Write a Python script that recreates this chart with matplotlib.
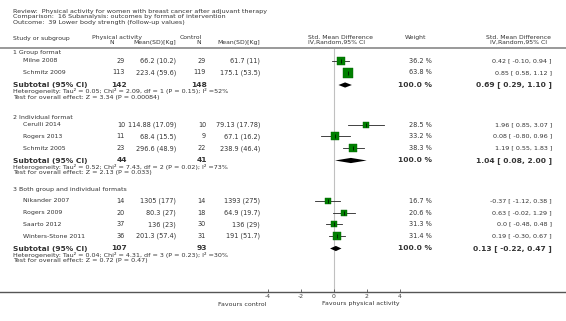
import matplotlib
matplotlib.use("Agg")
import matplotlib.pyplot as plt
import matplotlib.transforms as mtransforms

# ---------------- data ----------------
title_lines = ["Review:  Physical activity for women with breast cancer after adjuvant therapy",
               "Comparison:  16 Subanalysis: outcomes by format of intervention",
               "Outcome:  39 Lower body strength (follow-up values)"]

group_names = ["1 Group format", "2 Individual format", "3 Both group and individual formats"]

studies = [["Milne 2008", "Schmitz 2009"],
           ["Cerulli 2014", "Rogers 2013", "Schmitz 2005"],
           ["Nikander 2007", "Rogers 2009", "Saarto 2012", "Winters-Stone 2011"]]
pa_n = [[29, 113], [10, 11, 23], [14, 20, 37, 36]]
pa_mean = [["66.2 (10.2)", "223.4 (59.6)"],
           ["114.88 (17.09)", "68.4 (15.5)", "296.6 (48.9)"],
           ["1305 (177)", "80.3 (27)", "136 (23)", "201.3 (57.4)"]]
ct_n = [[29, 119], [10, 9, 22], [14, 18, 30, 31]]
ct_mean = [["61.7 (11)", "175.1 (53.5)"],
           ["79.13 (17.78)", "67.1 (16.2)", "238.9 (46.4)"],
           ["1393 (275)", "64.9 (19.7)", "136 (29)", "191 (51.7)"]]
weights = [[36.2, 63.8], [28.5, 33.2, 38.3], [16.7, 20.6, 31.3, 31.4]]
est = [[0.42, 0.85], [1.96, 0.08, 1.19], [-0.37, 0.63, 0.0, 0.19]]
lo = [[-0.10, 0.58], [0.85, -0.80, 0.55], [-1.12, -0.02, -0.48, -0.30]]
hi = [[0.94, 1.12], [3.07, 0.96, 1.83], [0.38, 1.29, 0.48, 0.67]]
ci_text = [["0.42 [ -0.10, 0.94 ]", "0.85 [ 0.58, 1.12 ]"],
           ["1.96 [ 0.85, 3.07 ]", "0.08 [ -0.80, 0.96 ]", "1.19 [ 0.55, 1.83 ]"],
           ["-0.37 [ -1.12, 0.38 ]", "0.63 [ -0.02, 1.29 ]", "0.0 [ -0.48, 0.48 ]", "0.19 [ -0.30, 0.67 ]"]]

sub_pa_n = [142, 44, 107]
sub_ct_n = [148, 41, 93]
sub_est = [0.69, 1.04, 0.13]
sub_lo = [0.29, 0.08, -0.22]
sub_hi = [1.10, 2.00, 0.47]
sub_text = ["0.69 [ 0.29, 1.10 ]", "1.04 [ 0.08, 2.00 ]", "0.13 [ -0.22, 0.47 ]"]
het_text = ["Heterogeneity: Tau\u00b2 = 0.05; Chi\u00b2 = 2.09, df = 1 (P = 0.15); I\u00b2 =52%",
            "Heterogeneity: Tau\u00b2 = 0.52; Chi\u00b2 = 7.43, df = 2 (P = 0.02); I\u00b2 =73%",
            "Heterogeneity: Tau\u00b2 = 0.04; Chi\u00b2 = 4.31, df = 3 (P = 0.23); I\u00b2 =30%"]
test_text = ["Test for overall effect: Z = 3.34 (P = 0.00084)",
             "Test for overall effect: Z = 2.13 (P = 0.033)",
             "Test for overall effect: Z = 0.72 (P = 0.47)"]

xticks = [-4, -2, 0, 2, 4]
left_label = "Favours control"
right_label = "Favours physical activity"

# ---------------- layout (pixel rows) ----------------
W, H = 566, 321
DPI = 100
header_y = [52.7, 117.7, 189.5]
study_y = [[61, 72.5], [124.7, 136.3, 148.3], [200.7, 212.7, 224.3, 236]]
sub_y = [85, 160.5, 248.5]
het_y = [91.5, 167, 255.3]
test_y = [97.3, 172.5, 260.7]

top_px, bot_px = 47.5, 291.5
x0_px, unit_px = 333.7, 16.5

fig = plt.figure(figsize=(W / DPI, H / DPI), dpi=DPI)
ax = fig.add_axes([0, 1 - bot_px / H, 1, (bot_px - top_px) / H])
ax.set_xlim(-x0_px / unit_px, (W - x0_px) / unit_px)
ax.set_ylim(bot_px, top_px)
for s in ["left", "right"]:
    ax.spines[s].set_visible(False)
ax.spines["bottom"].set_color("#555555")
ax.spines["bottom"].set_linewidth(1.0)
ax.spines["top"].set_color("#999999")
ax.spines["top"].set_linewidth(1.4)
ax.set_yticks([])
ax.set_xticks(xticks)
ax.set_xticklabels([str(t) for t in xticks])
ax.tick_params(axis="x", direction="in", length=2, width=0.6, color="#555555",
               labelsize=4.4, labelcolor="#444444", pad=1.5)
ax.patch.set_alpha(0)

# zero line
ax.axvline(0, color="#c0c0c0", lw=0.8, zorder=0)

tr = mtransforms.blended_transform_factory(ax.transAxes, ax.transData)
TXT = "#333333"
NFS = 4.7   # numbers
SFS = 4.5   # study names
BFS = 5.4   # bold subtotal

def px(x):
    return x / W

# title
for i, line in enumerate(title_lines):
    fig.text(px(13), 1 - (11 + 5.9 * i) / H, line, fontsize=4.6, color=TXT, va="center", ha="left")

# column headers
def htxt(x, y, s, ha="left"):
    fig.text(px(x), 1 - y / H, s, fontsize=4.4, color=TXT, va="center", ha=ha)

htxt(13, 38.3, "Study or subgroup")
htxt(92, 37.3, "Physical activity")
htxt(112, 42.7, "N", ha="center")
htxt(176, 42.7, "Mean(SD)[Kg]", ha="right")
htxt(180, 37.3, "Control")
htxt(199, 42.7, "N", ha="center")
htxt(260, 42.7, "Mean(SD)[Kg]", ha="right")
htxt(308, 37.3, "Std. Mean Difference")
htxt(308, 42.7, "IV,Random,95% CI")
htxt(405, 37.3, "Weight")
htxt(518, 37.3, "Std. Mean Difference", ha="center")
htxt(518, 42.7, "IV,Random,95% CI", ha="center")

def t(x, y, s, ha="left", fs=NFS, bold=False, color=TXT):
    ax.text(px(x), y, s, transform=tr, fontsize=fs, ha=ha, va="center", color=color,
            fontweight="bold" if bold else "normal", clip_on=False)

for g in range(3):
    t(13, header_y[g], group_names[g], fs=SFS)
    for i, name in enumerate(studies[g]):
        y = study_y[g][i]
        t(23, y, name, fs=SFS)
        t(125, y, str(pa_n[g][i]), ha="right")
        t(176, y, pa_mean[g][i], ha="right")
        t(206, y, str(ct_n[g][i]), ha="right")
        t(260, y, ct_mean[g][i], ha="right")
        t(432, y, f"{weights[g][i]:.1f} %", ha="right")
        t(552, y, ci_text[g][i], ha="right", fs=4.55)
        # CI line and square
        ax.plot([lo[g][i], hi[g][i]], [y, y], color="#222222", lw=0.6, zorder=2)
        side_px = 1.25 * weights[g][i] ** 0.5
        ax.plot([est[g][i]], [y], marker="s", ms=side_px * 72 / DPI, color="#008000",
                mec="#006400", mew=0.3, zorder=3)
        ax.plot([est[g][i]], [y], marker="|", ms=3.0, color="black", mew=0.5, zorder=4)
    ys = sub_y[g]
    t(13, ys, "Subtotal (95% CI)", fs=BFS, bold=True)
    t(127, ys, str(sub_pa_n[g]), ha="right", fs=BFS, bold=True)
    t(207, ys, str(sub_ct_n[g]), ha="right", fs=BFS, bold=True)
    t(432, ys, "100.0 %", ha="right", fs=BFS, bold=True)
    t(552, ys, sub_text[g], ha="right", fs=BFS, bold=True)
    t(13, het_y[g], het_text[g], fs=4.6)
    t(13, test_y[g], test_text[g], fs=4.6)
    dh = 2.6
    ax.fill([sub_lo[g], sub_est[g], sub_hi[g], sub_est[g]],
            [ys, ys - dh, ys, ys + dh], color="black", zorder=3, lw=0)

fig.text(px(266), 1 - 304 / H, left_label, fontsize=4.5, color=TXT, ha="right", va="center")
fig.text(px(322), 1 - 304 / H, right_label, fontsize=4.5, color=TXT, ha="left", va="center")

fig.savefig("out.png", dpi=DPI, facecolor="white")
